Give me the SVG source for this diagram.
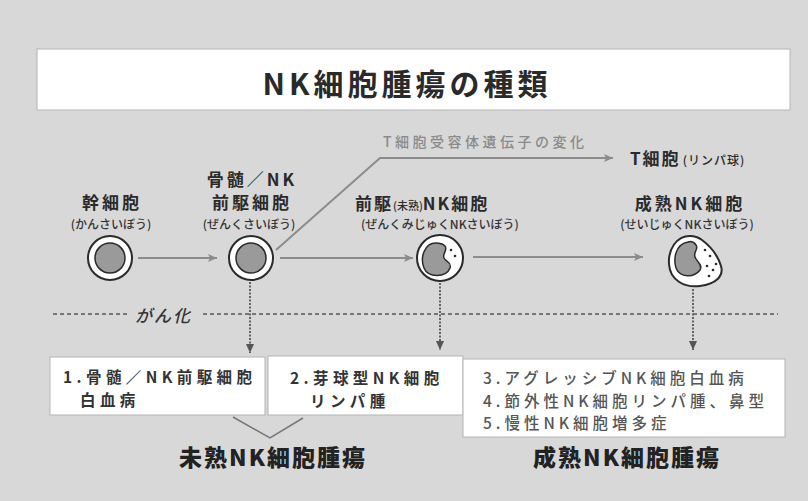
<svg xmlns="http://www.w3.org/2000/svg" width="808" height="501" viewBox="0 0 808 501">
  <style>
    .jp { font-family: "Noto Sans CJK JP", "Noto Sans", sans-serif; }
    .lbl { font-size: 17px; font-weight: 700; fill: #2a2a2a; letter-spacing: 3px; }
    .read { font-size: 12px; font-weight: 500; fill: #333; }
    .item { font-size: 15.5px; font-weight: 700; fill: #333; letter-spacing: 4.4px; }
    .item2 { font-size: 15.5px; font-weight: 500; fill: #555; letter-spacing: 4px; }
    .group { font-size: 23px; font-weight: 900; fill: #222; letter-spacing: 2px; }
    .panel { fill: #ffffff; stroke: #b4b4b4; stroke-width: 1; }
    .flow { fill: none; stroke: #8c8c8c; stroke-width: 2; }
    .down { fill: none; stroke: #3c3c3c; stroke-width: 1.5; stroke-dasharray: 2 1.5; }
    .cellwall { fill: #ffffff; stroke: #2a2a2a; stroke-width: 2; }
    .nucleus { fill: #9a9a9a; stroke: #2a2a2a; stroke-width: 1.5; }
    .granule { fill: #2a2a2a; }
  </style>
  <defs>
    <marker id="headGray" markerWidth="10" markerHeight="10" refX="9" refY="5" orient="auto" markerUnits="userSpaceOnUse">
      <path d="M0,1 L9,5 L0,9 L2,5 Z" fill="#8c8c8c"/>
    </marker>
    <marker id="headDark" markerWidth="10" markerHeight="10" refX="5" refY="9" orient="0" markerUnits="userSpaceOnUse">
      <path d="M1,0 L9,0 L5,9 Z" fill="#555"/>
    </marker>
  </defs>

  <!-- background -->
  <rect x="0" y="0" width="808" height="501" fill="#d8d8d8"/>

  <!-- title -->
  <g id="title">
    <rect class="panel" x="37" y="49" width="753" height="61"/>
    <text class="jp" x="407" y="95" text-anchor="middle" font-size="30" font-weight="700" fill="#2a2a2a" letter-spacing="4">NK細胞腫瘍の種類</text>
  </g>

  <!-- connectors -->
  <g id="connectors">
    <line class="flow" x1="138" y1="258" x2="217" y2="258" marker-end="url(#headGray)"/>
    <line class="flow" x1="280" y1="258" x2="413" y2="258" marker-end="url(#headGray)"/>
    <line class="flow" x1="473" y1="257" x2="643" y2="257" marker-end="url(#headGray)"/>
    <polyline class="flow" points="276,250 380,158 613,158" marker-end="url(#headGray)"/>
    <line class="down" x1="250" y1="282" x2="250" y2="353" marker-end="url(#headDark)"/>
    <line class="down" x1="440" y1="283" x2="440" y2="350" marker-end="url(#headDark)"/>
    <line class="down" x1="693" y1="289" x2="693" y2="350" marker-end="url(#headDark)"/>
    <line x1="53" y1="314" x2="128" y2="314" stroke="#555" stroke-width="1.5" stroke-dasharray="4 3"/>
    <line x1="203" y1="314" x2="778" y2="314" stroke="#555" stroke-width="1.5" stroke-dasharray="4 3"/>
    <polyline points="233,417 270,438 303,418" fill="none" stroke="#777" stroke-width="1.5"/>
  </g>

  <!-- T-cell branch label -->
  <g id="tcr-label">
    <text class="jp" x="383" y="147" font-size="14" font-weight="500" fill="#8a8a8a" letter-spacing="3.5">T細胞受容体遺伝子の変化</text>
  </g>
  <g id="t-cell">
    <text class="jp" x="630" y="165" fill="#2a2a2a"><tspan font-size="17" font-weight="700" letter-spacing="2">T細胞</tspan><tspan font-size="12" font-weight="500" dx="2" letter-spacing="1">(リンパ球)</tspan></text>
  </g>

  <!-- stem cell -->
  <g id="stem-cell">
    <text class="jp lbl" x="112" y="209" text-anchor="middle">幹細胞</text>
    <text class="jp read" x="111" y="229" text-anchor="middle">(かんさいぼう)</text>
    <circle class="cellwall" cx="110" cy="258" r="22"/>
    <circle class="nucleus" cx="110" cy="258" r="15"/>
  </g>

  <!-- myeloid / NK precursor -->
  <g id="precursor-cell">
    <text class="jp lbl" x="252" y="186" text-anchor="middle">骨髄／NK</text>
    <text class="jp lbl" x="252" y="209" text-anchor="middle">前駆細胞</text>
    <text class="jp read" x="249" y="229" text-anchor="middle">(ぜんくさいぼう)</text>
    <circle class="cellwall" cx="251" cy="258" r="22"/>
    <circle class="nucleus" cx="251" cy="258" r="15"/>
  </g>

  <!-- precursor (immature) NK cell -->
  <g id="immature-nk">
    <text class="jp" x="355" y="210" fill="#2a2a2a"><tspan font-size="17" font-weight="700" letter-spacing="2">前駆</tspan><tspan font-size="11" font-weight="500">(未熟)</tspan><tspan font-size="17" font-weight="700" letter-spacing="2">NK細胞</tspan></text>
    <text class="jp read" x="440" y="229" text-anchor="middle">(ぜんくみじゅくNKさいぼう)</text>
    <circle class="cellwall" cx="440" cy="258" r="23"/>
    <path class="nucleus" d="M436,243 C424,243 420,258 424,268 C428,278 446,278 450,268 C452,262 446,262 444,258 C442,254 448,250 445,246 C443,244 440,243 436,243 Z"/>
    <circle class="granule" cx="451" cy="250" r="1.3"/>
    <circle class="granule" cx="455" cy="256" r="1.3"/>
  </g>

  <!-- mature NK cell -->
  <g id="mature-nk">
    <text class="jp lbl" x="690" y="210" text-anchor="middle">成熟NK細胞</text>
    <text class="jp read" x="687" y="229" text-anchor="middle">(せいじゅくNKさいぼう)</text>
    <path class="cellwall" d="M690,236 C676,236 668,250 669,264 C670,280 684,288 700,286 C716,284 724,276 721,266 C718,256 710,246 702,240 C698,237 694,236 690,236 Z"/>
    <path class="nucleus" d="M688,242 C676,244 673,258 676,268 C680,278 694,278 700,270 C703,265 697,262 695,257 C693,252 699,249 696,245 C694,242 691,241 688,242 Z"/>
    <circle class="granule" cx="705" cy="250" r="1.3"/>
    <circle class="granule" cx="710" cy="256" r="1.3"/>
    <circle class="granule" cx="707" cy="266" r="1.3"/>
    <circle class="granule" cx="713" cy="270" r="1.3"/>
    <circle class="granule" cx="716" cy="264" r="1.3"/>
    <circle class="granule" cx="709" cy="276" r="1.3"/>
  </g>

  <!-- transformation label -->
  <g id="transformation">
    <text class="jp" x="135" y="322" font-size="17" font-weight="500" fill="#333" font-style="italic" letter-spacing="2">がん化</text>
  </g>

  <!-- disease boxes -->
  <g id="disease-1">
    <rect class="panel" x="50" y="357" width="215" height="58"/>
    <text class="jp item" x="63" y="383">1.骨髄／NK前駆細胞</text>
    <text class="jp item" x="80" y="406">白血病</text>
  </g>
  <g id="disease-2">
    <rect class="panel" x="268" y="356" width="195" height="59"/>
    <text class="jp item" x="290" y="384">2.芽球型NK細胞</text>
    <text class="jp item" x="310" y="407">リンパ腫</text>
  </g>
  <g id="disease-3-5">
    <rect class="panel" x="463" y="359" width="322" height="78"/>
    <text class="jp item2" x="483" y="384">3.アグレッシブNK細胞白血病</text>
    <text class="jp item2" x="483" y="406.5">4.節外性NK細胞リンパ腫、鼻型</text>
    <text class="jp item2" x="483" y="429">5.慢性NK細胞増多症</text>
  </g>

  <!-- group headings -->
  <g id="immature-group">
    <text class="jp group" x="273" y="466" text-anchor="middle">未熟NK細胞腫瘍</text>
  </g>
  <g id="mature-group">
    <text class="jp group" x="627" y="466" text-anchor="middle">成熟NK細胞腫瘍</text>
  </g>
</svg>
